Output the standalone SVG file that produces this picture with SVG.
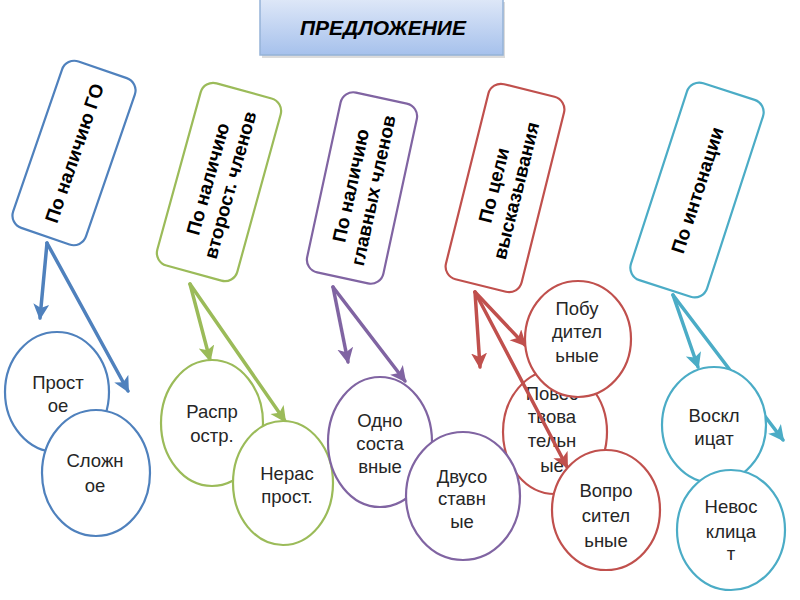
<svg xmlns="http://www.w3.org/2000/svg" width="800" height="600" viewBox="0 0 800 600">
<defs>
<linearGradient id="tg" x1="0" y1="0" x2="0" y2="1">
<stop offset="0" stop-color="#dfe8f8"/>
<stop offset="1" stop-color="#a6c1ec"/>
</linearGradient>
<marker id="mb" markerUnits="userSpaceOnUse" markerWidth="18" markerHeight="18" refX="14" refY="8" orient="auto"><path d="M0,0 L16,8 L0,16 L4,8 z" fill="#4F81BD"/></marker>
<marker id="mg" markerUnits="userSpaceOnUse" markerWidth="18" markerHeight="18" refX="14" refY="8" orient="auto"><path d="M0,0 L16,8 L0,16 L4,8 z" fill="#9BBB59"/></marker>
<marker id="mp" markerUnits="userSpaceOnUse" markerWidth="18" markerHeight="18" refX="14" refY="8" orient="auto"><path d="M0,0 L16,8 L0,16 L4,8 z" fill="#8064A2"/></marker>
<marker id="mr" markerUnits="userSpaceOnUse" markerWidth="18" markerHeight="18" refX="14" refY="8" orient="auto"><path d="M0,0 L16,8 L0,16 L4,8 z" fill="#C0504D"/></marker>
<marker id="mc" markerUnits="userSpaceOnUse" markerWidth="18" markerHeight="18" refX="14" refY="8" orient="auto"><path d="M0,0 L16,8 L0,16 L4,8 z" fill="#4BACC6"/></marker>
</defs>
<style>
.box{fill:#fff;stroke-width:2.2}
.el{fill:#fff;stroke-width:2.2}
.bt{font-family:"Liberation Sans",Arial,sans-serif;font-weight:bold;font-size:19px;fill:#000;text-anchor:middle}
.et{font-family:"Liberation Sans",Arial,sans-serif;font-size:18.5px;fill:#262626;text-anchor:middle}
.cn{fill:none;stroke-width:3.5;stroke-linecap:round}
.b{stroke:#4F81BD}.g{stroke:#9BBB59}.p{stroke:#8064A2}.r{stroke:#C0504D}.c{stroke:#4BACC6}
</style>
<rect width="800" height="600" fill="#fff"/>

<g id="title">
<rect x="262" y="2" width="243" height="56" fill="#b8b8b8" opacity="0.5"/>
<rect x="260" y="-2" width="243" height="57" fill="url(#tg)" stroke="#95b3d7" stroke-width="1.5"/>
<text x="383" y="35" font-family="Liberation Sans,Arial,sans-serif" font-weight="bold" font-style="italic" font-size="21" text-anchor="middle" fill="#000">ПРЕДЛОЖЕНИЕ</text>
</g>

<g id="cat1" transform="translate(74,153) rotate(-71)">
<rect class="box b" x="-88" y="-38.5" width="176" height="77" rx="13"/>
<text class="bt" x="0" y="7">По наличию ГО</text>
</g>
<g id="cat2" transform="translate(219,182) rotate(-74.6)">
<rect class="box g" x="-94.5" y="-41.5" width="189" height="83" rx="13"/>
<text class="bt" x="0" y="-5">По наличию</text>
<text class="bt" x="0" y="18">второст. членов</text>
</g>
<g id="cat3" transform="translate(362,188) rotate(-77.8)">
<rect class="box p" x="-92" y="-39" width="184" height="78" rx="13"/>
<text class="bt" x="0" y="-5">По наличию</text>
<text class="bt" x="0" y="18">главных членов</text>
</g>
<g id="cat4" transform="translate(505,188) rotate(-76)">
<rect class="box r" x="-100.5" y="-39" width="201" height="78" rx="13"/>
<text class="bt" x="0" y="-5">По цели</text>
<text class="bt" x="0" y="18">высказывания</text>
</g>
<g id="cat5" transform="translate(697,190) rotate(-72)">
<rect class="box c" x="-103.5" y="-40" width="207" height="80" rx="13"/>
<text class="bt" x="0" y="7">По интонации</text>
</g>

<g id="povest">
<ellipse class="el r" cx="555" cy="432" rx="52" ry="62"/>
<text class="et" x="552" y="400">Повес</text>
<text class="et" x="552" y="423">твова</text>
<text class="et" x="552" y="447">тельн</text>
<text class="et" x="552" y="472">ые</text>
</g>

<g id="connectors">
<line class="cn b" x1="47" y1="243" x2="40" y2="318" marker-end="url(#mb)"/>
<line class="cn b" x1="47" y1="243" x2="128" y2="391" marker-end="url(#mb)"/>
<line class="cn g" x1="190" y1="284" x2="210" y2="360" marker-end="url(#mg)"/>
<line class="cn g" x1="190" y1="284" x2="285" y2="421" marker-end="url(#mg)"/>
<line class="cn p" x1="333" y1="287" x2="348" y2="362" marker-end="url(#mp)"/>
<line class="cn p" x1="333" y1="287" x2="405" y2="381" marker-end="url(#mp)"/>
<line class="cn r" x1="475" y1="292" x2="480" y2="367" marker-end="url(#mr)"/>
<line class="cn r" x1="475" y1="292" x2="525" y2="345" marker-end="url(#mr)"/>
<line class="cn r" x1="475" y1="292" x2="567" y2="467" marker-end="url(#mr)"/>
<line class="cn c" x1="673" y1="295" x2="698" y2="367" marker-end="url(#mc)"/>
<line class="cn c" x1="673" y1="295" x2="783" y2="440" marker-end="url(#mc)"/>
</g>

<g id="prostoe">
<ellipse class="el b" cx="57" cy="392" rx="52" ry="60"/>
<text class="et" x="58" y="389">Прост</text>
<text class="et" x="58" y="412">ое</text>
</g>
<g id="slozhnoe">
<ellipse class="el b" cx="96" cy="473" rx="54" ry="63"/>
<text class="et" x="95" y="467">Сложн</text>
<text class="et" x="95" y="492">ое</text>
</g>
<g id="rasprostr">
<ellipse class="el g" cx="212" cy="423" rx="51" ry="63"/>
<text class="et" x="212" y="418">Распр</text>
<text class="et" x="212" y="442">остр.</text>
</g>
<g id="nerasprost">
<ellipse class="el g" cx="283" cy="483" rx="50" ry="62"/>
<text class="et" x="287" y="480">Нерас</text>
<text class="et" x="287" y="503">прост.</text>
</g>
<g id="odnosost">
<ellipse class="el p" cx="380" cy="442" rx="52" ry="65"/>
<text class="et" x="380" y="427">Одно</text>
<text class="et" x="380" y="450">соста</text>
<text class="et" x="380" y="473">вные</text>
</g>
<g id="dvusost">
<ellipse class="el p" cx="463" cy="496" rx="57" ry="64"/>
<text class="et" x="462" y="483">Двусо</text>
<text class="et" x="462" y="505">ставн</text>
<text class="et" x="462" y="528">ые</text>
</g>
<g id="pobud">
<ellipse class="el r" cx="578" cy="339" rx="53" ry="58"/>
<text class="et" x="577" y="315">Побу</text>
<text class="et" x="577" y="338">дител</text>
<text class="et" x="577" y="362">ьные</text>
</g>
<g id="vopros">
<ellipse class="el r" cx="606" cy="510" rx="54" ry="60"/>
<text class="et" x="606" y="497">Вопро</text>
<text class="et" x="606" y="522">сител</text>
<text class="et" x="606" y="547">ьные</text>
</g>
<g id="voskl">
<ellipse class="el c" cx="714" cy="425" rx="52" ry="58"/>
<text class="et" x="714" y="422">Воскл</text>
<text class="et" x="714" y="445">ицат</text>
</g>
<g id="nevoskl">
<ellipse class="el c" cx="731" cy="530" rx="54" ry="60"/>
<text class="et" x="731" y="513">Невос</text>
<text class="et" x="731" y="538">клица</text>
<text class="et" x="731" y="560">т</text>
</g>
</svg>
